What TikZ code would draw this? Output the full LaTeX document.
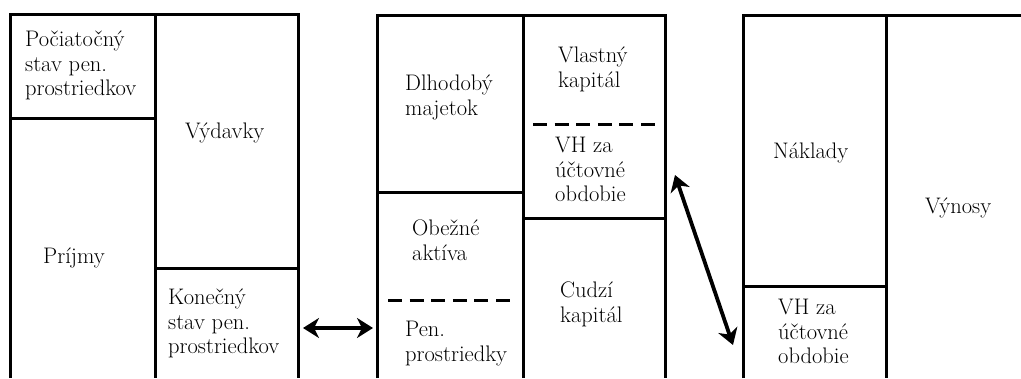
\documentclass[tikz,border=0pt]{standalone}
\usepackage{fontspec}
\usetikzlibrary{arrows.meta}
\begin{document}
\begin{tikzpicture}[x=1pt,y=-1pt,
  frame/.style={line width=3pt},
  sepline/.style={line width=3pt, dash pattern=on 14pt off 7.6pt},
  lbl/.style={anchor=north west, inner sep=0pt, align=left, font=\fontsize{22.5}{24.5}\selectfont},
  lbs/.style={anchor=base west, inner sep=0pt, font=\fontsize{22.5}{24.5}\selectfont},
  dbl/.style={line width=3.8pt, {Stealth[length=16pt,width=20pt,inset=5pt]}-{Stealth[length=16pt,width=20pt,inset=5pt]}}
]
\useasboundingbox (0,0) rectangle (1021,378);
% left block: cash flow
\draw[frame] (10,378) -- (10,14) -- (298,14) -- (298,378);
\draw[frame] (155,14) -- (155,378);
\draw[frame] (10,118) -- (155,118);
\draw[frame] (155,268) -- (298,268);
% middle block: balance sheet
\draw[frame] (377,378) -- (377,15) -- (665,15) -- (665,378);
\draw[frame] (523,15) -- (523,378);
\draw[frame] (377,192) -- (523,192);
\draw[frame] (523,218) -- (665,218);
\draw[sepline] (388,300) -- (510,300);
\draw[sepline] (533,124) -- (655,124);
% right block: income statement
\draw[frame] (743,378) -- (743,15) -- (1021,15);
\draw[frame] (886,15) -- (886,378);
\draw[frame] (743,286) -- (886,286);
% texts
\node[lbl] (poc) at (25,31) {Počiatočný\\stav pen.\\prostriedkov};
\node[lbs] (vyd) at (185,138) {Výdavky};
\node[lbs] (prij) at (43,263) {Príjmy};
\node[lbl] (kon) at (168,289) {Konečný\\stav pen.\\prostriedkov};
\node[lbl] (dlh) at (405,75) {Dlhodobý\\majetok};
\node[lbl] (vlk) at (558,47) {Vlastný\\kapitál};
\node[lbl] (vh1) at (555,137) {VH za\\účtovné\\obdobie};
\node[lbl] (obe) at (412,220) {Obežné\\aktíva};
\node[lbl] (pen) at (405,321) {Pen.\\prostriedky};
\node[lbl] (cud) at (560,282) {Cudzí\\kapitál};
\node[lbs] (nak) at (773,158) {Náklady};
\node[lbs] (vyn) at (925,213) {Výnosy};
\node[lbl] (vh2) at (778,299) {VH za\\účtovné\\obdobie};
% arrows
\coordinate (h1) at (303,328);
\coordinate (h2) at (373,328);
\draw[dbl] (h1) -- (h2);
\coordinate (d1) at (675,175);
\coordinate (d2) at (733,345);
\draw[dbl] (d1) -- (d2);
\end{tikzpicture}
\end{document}
